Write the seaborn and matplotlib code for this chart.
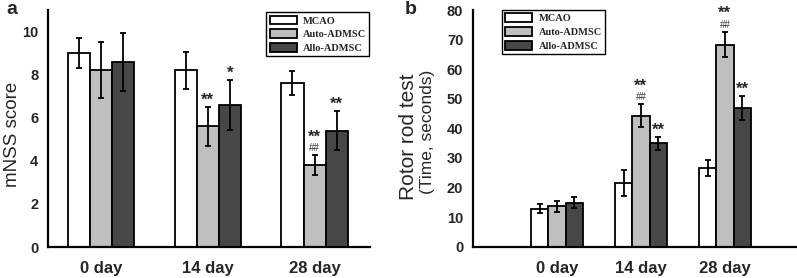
import numpy as np
import pandas as pd
import matplotlib
matplotlib.use("Agg")
import matplotlib.pyplot as plt
import seaborn as sns

days = ['0 day', '14 day', '28 day']
groups = ['MCAO', 'Auto-ADMSC', 'Allo-ADMSC']

# panel a: mNSS score
nss_mcao = [9.0, 8.2, 7.6]
nss_auto = [8.2, 5.6, 3.8]
nss_allo = [8.6, 6.6, 5.4]
nss_mcao_err = [0.7, 0.85, 0.55]
nss_auto_err = [1.3, 0.9, 0.45]
nss_allo_err = [1.35, 1.15, 0.9]
nss_stars = [['', '', ''], ['', '**', '**'], ['', '*', '**']]
nss_hash = [['', '', ''], ['', '', '##'], ['', '', '']]

# panel b: rotor rod test
rr_mcao = [12.8, 21.6, 26.6]
rr_auto = [13.6, 44.3, 68.3]
rr_allo = [14.9, 34.9, 46.8]
rr_mcao_err = [1.5, 4.3, 2.7]
rr_auto_err = [1.8, 3.8, 4.3]
rr_allo_err = [1.9, 2.3, 4.1]
rr_stars = [['', '', ''], ['', '**', '**'], ['', '**', '**']]
rr_hash = [['', '', ''], ['', '##', '##'], ['', '', '']]

colors = ['#ffffff', '#bfbfbf', '#474747']
sans = ['Liberation Sans', 'DejaVu Sans']
serif = ['Liberation Serif', 'DejaVu Serif']


def long_table(vals):
    rows = []
    for g, v in zip(groups, vals):
        for d, y in zip(days, v):
            rows.append({'day': d, 'group': g, 'value': y})
    return pd.DataFrame(rows)


def draw_panel(ax, vals, errs, stars, hashes, ylim, yticks, leg_loc, leg_anchor):
    df = long_table(vals)
    sns.barplot(data=df, x='day', y='value', hue='group', order=days, hue_order=groups,
                palette=colors, width=0.62, gap=0, errorbar=None,
                edgecolor='black', linewidth=1.3, ax=ax, saturation=1)
    bars = list(ax.containers)
    for k, cont in enumerate(bars):
        xs = [p.get_x() + p.get_width() / 2 for p in cont.patches]
        hs = [p.get_height() for p in cont.patches]
        ax.errorbar(xs, hs, yerr=errs[k], fmt='none', ecolor='black',
                    elinewidth=1.3, capsize=2.5, capthick=1.3, zorder=5)
        for i in range(len(xs)):
            top = hs[i] + errs[k][i]
            off = 1.5
            if hashes[k][i]:
                ax.annotate(hashes[k][i], (xs[i], top), xytext=(0, off), textcoords='offset points',
                            ha='center', va='bottom', fontsize=7, color='#333333', family=sans)
                off += 8.5
            if stars[k][i]:
                ax.annotate(stars[k][i], (xs[i], top), xytext=(0, off - 2), textcoords='offset points',
                            ha='center', va='bottom', fontsize=12, fontweight='bold', family=sans)
    ax.set_ylim(*ylim)
    ax.set_yticks(yticks)
    ax.set_xlabel('')
    ax.set_ylabel('')
    for s in ['top', 'right']:
        ax.spines[s].set_visible(False)
    for s in ['left', 'bottom']:
        ax.spines[s].set_linewidth(1.6)
        ax.spines[s].set_color('black')
    ax.tick_params(axis='y', direction='out', length=5, width=1.5, pad=2, labelsize=10.5)
    ax.tick_params(axis='x', direction='out', length=4, width=1.5, pad=6, labelsize=12)
    for lab in ax.get_xticklabels() + ax.get_yticklabels():
        lab.set_fontweight('bold')
        lab.set_family(sans)
    handles, labels = ax.get_legend_handles_labels()
    leg = ax.legend(handles, labels, loc=leg_loc, bbox_to_anchor=leg_anchor, borderaxespad=0,
                    fancybox=False, edgecolor='black', framealpha=1,
                    handlelength=2.6, handleheight=0.95, labelspacing=0.35,
                    handletextpad=0.6, borderpad=0.3,
                    prop={'family': serif, 'weight': 'bold', 'size': 7.5})
    leg.get_frame().set_linewidth(1.0)


sns.set_style('white')
fig = plt.figure(figsize=(7.97, 2.78), dpi=100)
ax1 = fig.add_axes([0.0602, 0.1115, 0.404, 0.8525])
ax2 = fig.add_axes([0.5935, 0.1126, 0.4055, 0.8514])

draw_panel(ax1, [nss_mcao, nss_auto, nss_allo], [nss_mcao_err, nss_auto_err, nss_allo_err],
           nss_stars, nss_hash, (0, 11), [0, 2, 4, 6, 8, 10], 'upper right', (0.998, 0.99))
ax1.set_xlim(-0.5, 2.52)

draw_panel(ax2, [rr_mcao, rr_auto, rr_allo], [rr_mcao_err, rr_auto_err, rr_allo_err],
           rr_stars, rr_hash, (0, 80), [0, 10, 20, 30, 40, 50, 60, 70, 80], 'upper left', (0.09, 1.0))
ax2.set_xlim(-1.0, 2.85)

fig.text(0.016, 0.518, 'mNSS score', rotation=90, ha='center', va='center', fontsize=13.5, family=sans)
fig.text(0.513, 0.508, 'Rotor rod test', rotation=90, ha='center', va='center', fontsize=15, family=sans)
fig.text(0.536, 0.526, '(Time, seconds)', rotation=90, ha='center', va='center', fontsize=12.5, family=sans)
fig.text(0.008, 0.995, 'a', ha='left', va='top', fontsize=14, fontweight='bold', family=sans)
fig.text(0.508, 0.995, 'b', ha='left', va='top', fontsize=14, fontweight='bold', family=sans)

fig.savefig('out.png', dpi=100)
